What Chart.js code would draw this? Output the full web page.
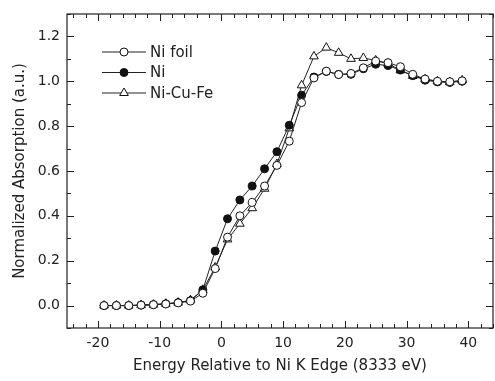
<!DOCTYPE html>
<html>
<head>
<meta charset="utf-8">
<script src="https://cdn.jsdelivr.net/npm/chart.js@4"></script>
<style>
  html, body { margin: 0; padding: 0; background: #fff; }
  #wrap { width: 495px; height: 381px; }
</style>
</head>
<body>
<div id="wrap"><canvas id="chart" width="495" height="381"></canvas></div>
<script>
// energy relative to the Ni K edge (eV)
const energy = [-19, -17, -15, -13, -11, -9, -7, -5, -3, -1, 1, 3, 5, 7, 9, 11, 13, 15, 17, 19, 21, 23, 25, 27, 29, 31, 33, 35, 37, 39]

const niFoil = [0, 0, 0, 0.002, 0.004, 0.007, 0.012, 0.02, 0.055, 0.165, 0.305, 0.40, 0.46, 0.533, 0.625, 0.733, 0.905, 1.015, 1.045, 1.03, 1.035, 1.06, 1.09, 1.083, 1.065, 1.031, 1.01, 1.0, 0.998, 1.002]
const ni = [0, 0, 0, 0.002, 0.004, 0.008, 0.013, 0.022, 0.07, 0.243, 0.387, 0.471, 0.533, 0.61, 0.686, 0.804, 0.938, 1.019, 1.044, 1.031, 1.031, 1.056, 1.076, 1.07, 1.05, 1.025, 1.005, 0.997, 0.995, 1.0]
const niCuFe = [0, 0, 0, 0.002, 0.004, 0.008, 0.013, 0.024, 0.07, 0.17, 0.295, 0.365, 0.434, 0.521, 0.631, 0.79, 0.982, 1.111, 1.15, 1.127, 1.10, 1.104, 1.093, 1.079, 1.049, 1.024, 1.009, 1.0, 0.997, 1.004]

const seriesNames = ['Ni foil', 'Ni', 'Ni-Cu-Fe']

const xTicks = [-20, -10, 0, 10, 20, 30, 40]
const xMinorTicks = [-24, -22, -18, -16, -14, -12, -8, -6, -4, -2, 2, 4, 6, 8, 12, 14, 16, 18, 22, 24, 26, 28, 32, 34, 36, 38, 42, 44]
const yTicks = [0, 0.2, 0.4, 0.6, 0.8, 1.0, 1.2]
const yMinorTicks = [-0.1, 0.1, 0.3, 0.5, 0.7, 0.9, 1.1, 1.3]

const FONT = '"DejaVu Sans", Verdana, sans-serif'
const INK = '#222'

const toXY = (vals) => energy.map((e, i) => ({ x: e, y: vals[i] }))

// frame with inward ticks on all four sides
const framePlugin = {
  id: 'frame',
  beforeDatasetsDraw(chart) {
    const { ctx, chartArea: a, scales: { x, y } } = chart
    ctx.save()
    ctx.strokeStyle = INK
    ctx.lineWidth = 1.2
    ctx.strokeRect(a.left, a.top, a.right - a.left, a.bottom - a.top)
    ctx.lineWidth = 1
    const tick = (vals, len, horiz) => {
      vals.forEach((v) => {
        ctx.beginPath()
        if (horiz) {
          const px = Math.round(x.getPixelForValue(v)) + 0.5
          ctx.moveTo(px, a.bottom); ctx.lineTo(px, a.bottom - len)
          ctx.moveTo(px, a.top); ctx.lineTo(px, a.top + len)
        } else {
          const py = Math.round(y.getPixelForValue(v)) + 0.5
          ctx.moveTo(a.left, py); ctx.lineTo(a.left + len, py)
          ctx.moveTo(a.right, py); ctx.lineTo(a.right - len, py)
        }
        ctx.stroke()
      })
    }
    tick(xTicks, 7, true)
    tick(xMinorTicks, 4, true)
    tick(yTicks, 7, false)
    tick(yMinorTicks, 4, false)
    ctx.restore()
  }
}

// legend: short line with the marker in the middle, label on the right
const legendPlugin = {
  id: 'lineLegend',
  afterDraw(chart) {
    const { ctx } = chart
    const x0 = 102, x1 = 146, rowY = [52, 72.5, 93]
    ctx.save()
    chart.data.datasets.forEach((ds, i) => {
      const yy = rowY[i]
      ctx.strokeStyle = ds.borderColor
      ctx.lineWidth = 1
      ctx.beginPath()
      ctx.moveTo(x0, yy); ctx.lineTo(x1, yy)
      ctx.stroke()
      ctx.fillStyle = ds.pointBackgroundColor
      ctx.strokeStyle = ds.pointBorderColor
      ctx.lineWidth = ds.pointBorderWidth
      Chart.helpers.drawPoint(ctx, { pointStyle: ds.pointStyle, radius: ds.pointRadius, borderWidth: ds.pointBorderWidth, rotation: 0 }, (x0 + x1) / 2, yy)
      ctx.fillStyle = INK
      ctx.font = '15px ' + FONT
      ctx.textBaseline = 'middle'
      ctx.fillText(ds.label, 150, yy + 1)
    })
    ctx.restore()
  }
}

const mkSet = (label, vals, style, fill, r) => ({
  label,
  data: toXY(vals),
  borderColor: '#222',
  borderWidth: 1,
  pointStyle: style,
  pointRadius: r,
  pointHoverRadius: r,
  pointBorderWidth: 1,
  pointBorderColor: '#111',
  pointBackgroundColor: fill,
  tension: 0,
  fill: false,
})

new Chart(document.getElementById('chart'), {
  type: 'line',
  data: {
    datasets: [
      mkSet(seriesNames[0], niFoil, 'circle', '#fff', 4),
      mkSet(seriesNames[1], ni, 'circle', '#111', 4),
      mkSet(seriesNames[2], niCuFe, 'triangle', '#fff', 5),
    ],
  },
  options: {
    responsive: false,
    animation: false,
    layout: { autoPadding: false, padding: { top: 14, right: 2, bottom: 0, left: 0 } },
    plugins: { legend: { display: false }, tooltip: { enabled: false } },
    scales: {
      x: {
        type: 'linear',
        min: -25,
        max: 44,
        afterBuildTicks: (s) => { s.ticks = xTicks.map((v) => ({ value: v })) },
        afterFit: (s) => { s.height = 53; s.paddingLeft = 0; s.paddingRight = 0 },
        grid: { display: false, drawTicks: false },
        border: { display: false },
        ticks: { padding: 7, color: INK, font: { family: FONT, size: 14 }, maxRotation: 0 },
        title: { display: true, text: 'Energy Relative to Ni K Edge (8333 eV)', color: INK, font: { family: FONT, size: 15 }, padding: { top: 0, bottom: 6 } },
      },
      y: {
        type: 'linear',
        min: -0.1,
        max: 1.3,
        afterBuildTicks: (s) => { s.ticks = yTicks.map((v) => ({ value: v })) },
        afterFit: (s) => { s.width = 67; s.paddingTop = 0; s.paddingBottom = 0 },
        grid: { display: false, drawTicks: false },
        border: { display: false },
        ticks: { padding: 7, color: INK, font: { family: FONT, size: 14 }, callback: (v) => Number(v).toFixed(1) },
        title: { display: true, text: 'Normalized Absorption (a.u.)', color: INK, font: { family: FONT, size: 15 }, padding: { top: 11, bottom: 0 } },
      },
    },
  },
  plugins: [framePlugin, legendPlugin],
})
</script>
</body>
</html>
